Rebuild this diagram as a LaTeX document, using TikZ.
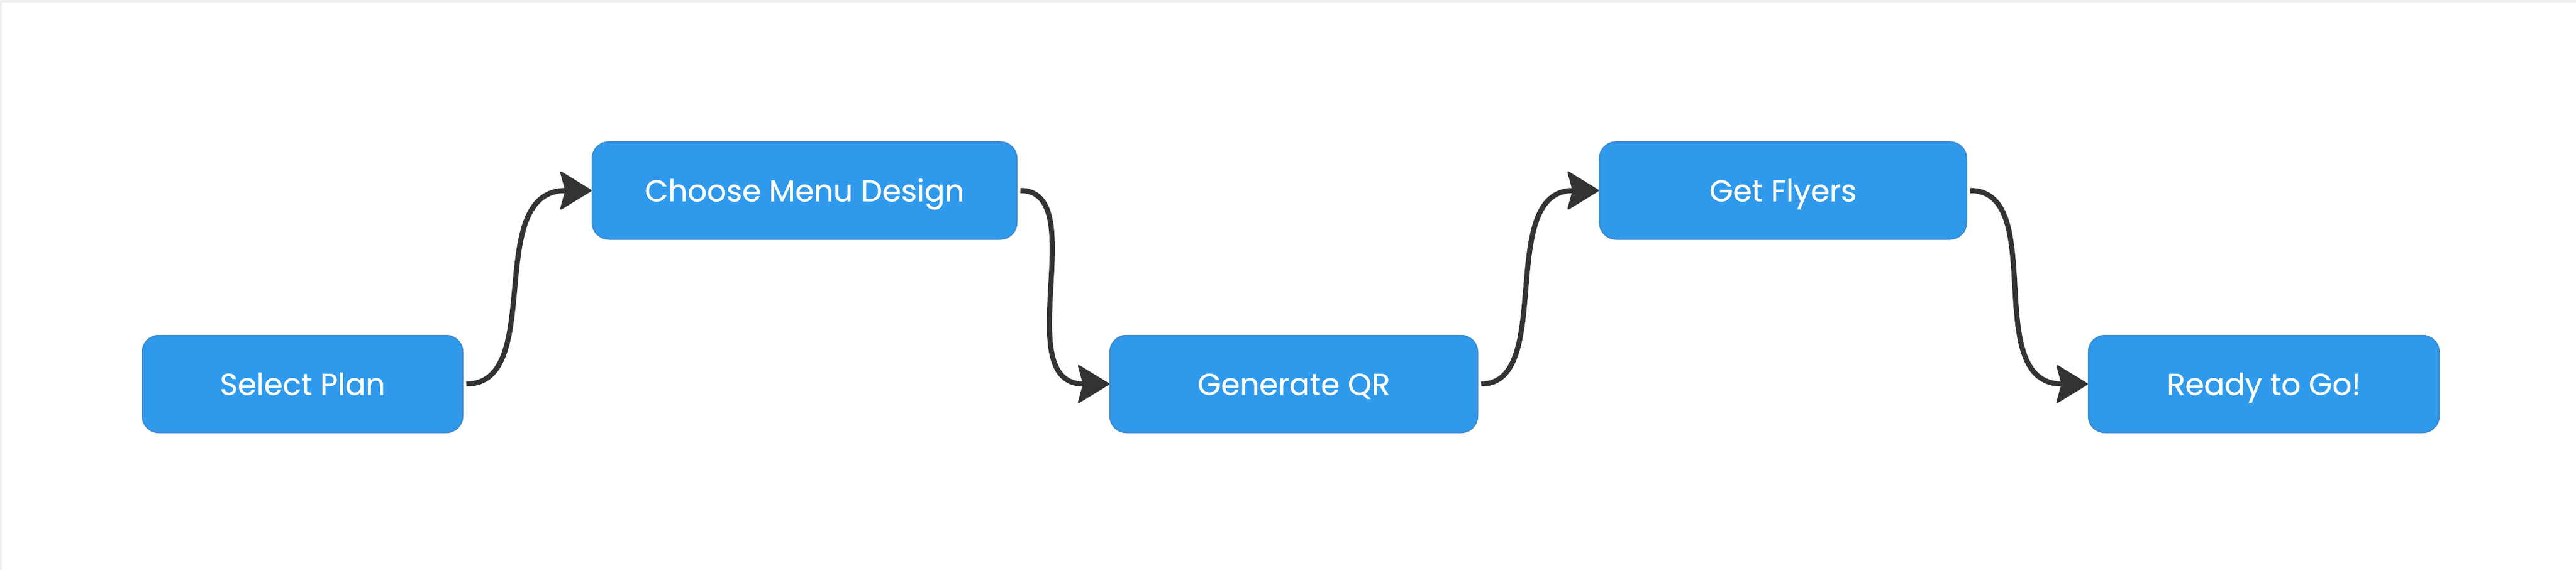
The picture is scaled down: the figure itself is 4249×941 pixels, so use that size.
\documentclass[tikz,border=0pt]{standalone}
\usepackage{fontspec}
\setmainfont{Poppins}
\newfontfamily\boxfont{Poppins}[FakeBold=0.6]
\usetikzlibrary{arrows.meta}
\definecolor{boxfill}{HTML}{2F9AEC}
\definecolor{boxline}{HTML}{3A8DD6}
\definecolor{edgecol}{HTML}{333333}
\definecolor{framecol}{HTML}{F0F0F0}
\begin{document}
\begin{tikzpicture}[x=1pt,y=-1pt,
  stepbox/.style={rectangle, rounded corners=27pt, fill=boxfill, draw=boxline,
    line width=2.5pt, minimum height=160pt, text=white,
    font=\boxfont\fontsize{50}{60}\selectfont, text height=36pt, text depth=0pt, inner sep=0pt},
  flow/.style={draw=edgecol, line width=8.5pt,
    -{Stealth[length=54pt,width=66pt,inset=9pt,round,line width=3pt]}}]
\fill[framecol] (0,0) rectangle (4249,941);
\fill[white] (3,4) rectangle (4249,941);
\useasboundingbox (0,0) rectangle (4249,941);
\node[stepbox, minimum width=528pt] (sel)   at (499,634)   {Select Plan};
\node[stepbox, minimum width=700pt] (menu)  at (1327,314.5) {Choose Menu Design};
\node[stepbox, minimum width=606pt] (qr)    at (2134,634)  {Generate QR};
\node[stepbox, minimum width=605pt] (fly)   at (2941,314.5) {Get Flyers};
\node[stepbox, minimum width=578pt] (ready) at (3734,634)  {Ready to Go!};
\draw[flow] ([xshift=5pt]sel.east) .. controls +(132,0) and +(-180,0) .. (menu.west);
\draw[flow] ([xshift=5pt]menu.east) .. controls +(119,0) and +(-167,0) .. (qr.west);
\draw[flow] ([xshift=5pt]qr.east) .. controls +(122,0) and +(-170,0) .. (fly.west);
\draw[flow] ([xshift=5pt]fly.east) .. controls +(130,0) and +(-178,0) .. (ready.west);
\end{tikzpicture}
\end{document}
